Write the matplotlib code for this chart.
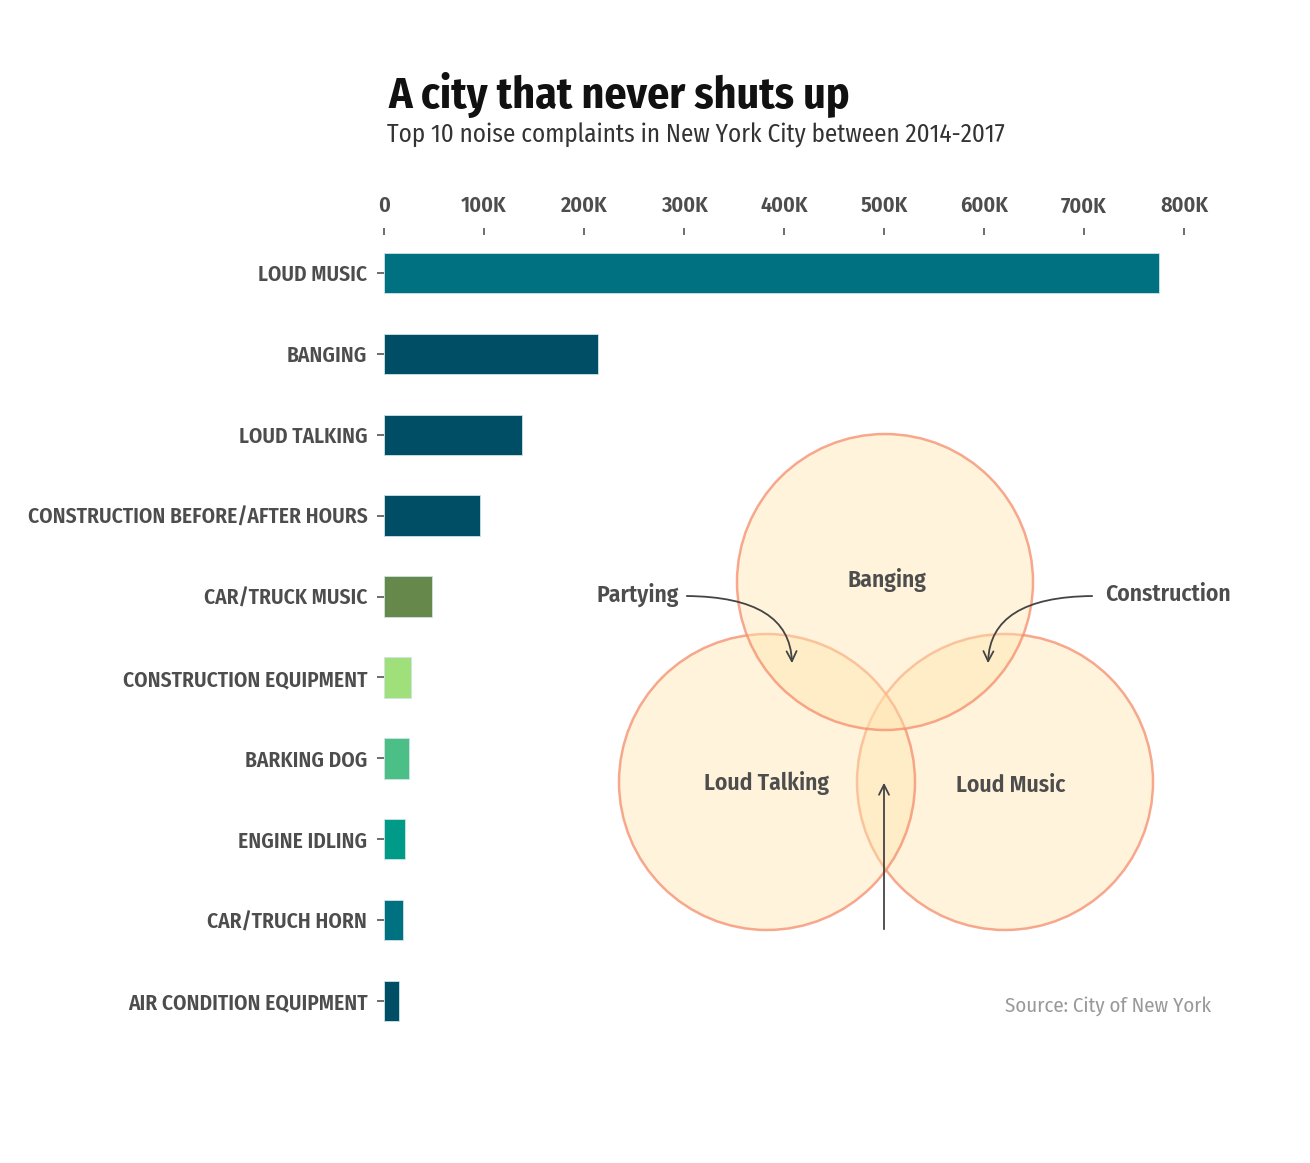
import matplotlib
matplotlib.use("Agg")
import matplotlib.pyplot as plt
from matplotlib.patches import Circle

plt.rcParams['font.family'] = ['Fira Sans Condensed', 'DejaVu Sans']

# data
categories = ["LOUD MUSIC", "BANGING", "LOUD TALKING", "CONSTRUCTION BEFORE/AFTER HOURS",
              "CAR/TRUCK MUSIC", "CONSTRUCTION EQUIPMENT", "BARKING DOG", "ENGINE IDLING",
              "CAR/TRUCH HORN", "AIR CONDITION EQUIPMENT"]
complaints = [775000, 214000, 138000, 96000, 48000, 27000, 25000, 21000, 19000, 15000]
bar_colors = ["#007180", "#004d66", "#004d66", "#004d66", "#66894b",
              "#a0e07a", "#4cbf87", "#009a88", "#007180", "#004d66"]
xticks = [0, 100000, 200000, 300000, 400000, 500000, 600000, 700000, 800000]
xtick_labels = ["0", "100K", "200K", "300K", "400K", "500K", "600K", "700K", "800K"]

venn_sets = ["Loud Music", "Loud Talking", "Banging"]
W, H = 1310, 1163
fig = plt.figure(figsize=(W / 100, H / 100), dpi=100)
ax = fig.add_axes([384 / W, (H - 1039) / H, 800 / W, (1039 - 235) / H])

ypos = list(range(len(categories)))
ax.barh(ypos, complaints, height=0.5, color=bar_colors, edgecolor="#cfe3e6", linewidth=0.6)
ax.set_ylim(9.47, -0.47)
ax.set_xlim(0, 800000)
ax.set_yticks(ypos)
ax.set_yticklabels(categories)
ax.set_xticks(xticks)
ax.set_xticklabels(xtick_labels)
ax.xaxis.tick_top()
for s in ax.spines.values():
    s.set_visible(False)
ax.tick_params(axis='both', colors="#555555", labelcolor="#4d4d4d", length=5, width=1.2)
ax.tick_params(axis='y', pad=7, labelsize=15.4)
ax.tick_params(axis='x', pad=8, labelsize=16)
for lab in ax.get_xticklabels() + ax.get_yticklabels():
    lab.set_fontweight('semibold')

fig.text(388 / W, 1 - 95 / H, "A city that never shuts up", fontsize=31.5, fontweight='bold',
         color="#111111", va='center', ha='left')
fig.text(387 / W, 1 - 135 / H, "Top 10 noise complaints in New York City between 2014-2017",
         fontsize=18, color="#333333", va='center', ha='left')
fig.text(1211 / W, 1 - 1006 / H, "Source: City of New York", fontsize=15, color="#999999",
         va='center', ha='right')

# venn overlay in pixel coordinates
ov = fig.add_axes([0, 0, 1, 1])
ov.set_xlim(0, W)
ov.set_ylim(H, 0)
ov.axis('off')
centres = {"Loud Music": (1005, 782), "Loud Talking": (767, 782), "Banging": (885, 582)}
for name in venn_sets:
    c = Circle(centres[name], 148, facecolor=(1.0, 0.90, 0.69, 0.45),
               edgecolor=(0.96, 0.55, 0.42, 0.75), linewidth=1.8)
    ov.add_patch(c)

lab_kw = dict(fontsize=17, fontweight='semibold', color="#4d4d4d", va='center')
ov.text(887, 580, "Banging", ha='center', **lab_kw)
ov.text(766, 783, "Loud Talking", ha='center', **lab_kw)
ov.text(1011, 785, "Loud Music", ha='center', **lab_kw)
ov.text(679, 595, "Partying", ha='right', **lab_kw)
ov.text(1105, 594, "Construction", ha='left', **lab_kw)

arr = dict(arrowstyle='->', color="#444444", lw=1.3, mutation_scale=18)
ov.annotate("", xy=(792, 666), xytext=(684, 596),
            arrowprops=dict(connectionstyle="angle3,angleA=0,angleB=90", **arr))
ov.annotate("", xy=(988, 666), xytext=(1095, 596),
            arrowprops=dict(connectionstyle="angle3,angleA=0,angleB=90", **arr))
ov.annotate("", xy=(884, 780), xytext=(884, 932), arrowprops=arr)

fig.savefig("out.png", dpi=100, facecolor="white")
